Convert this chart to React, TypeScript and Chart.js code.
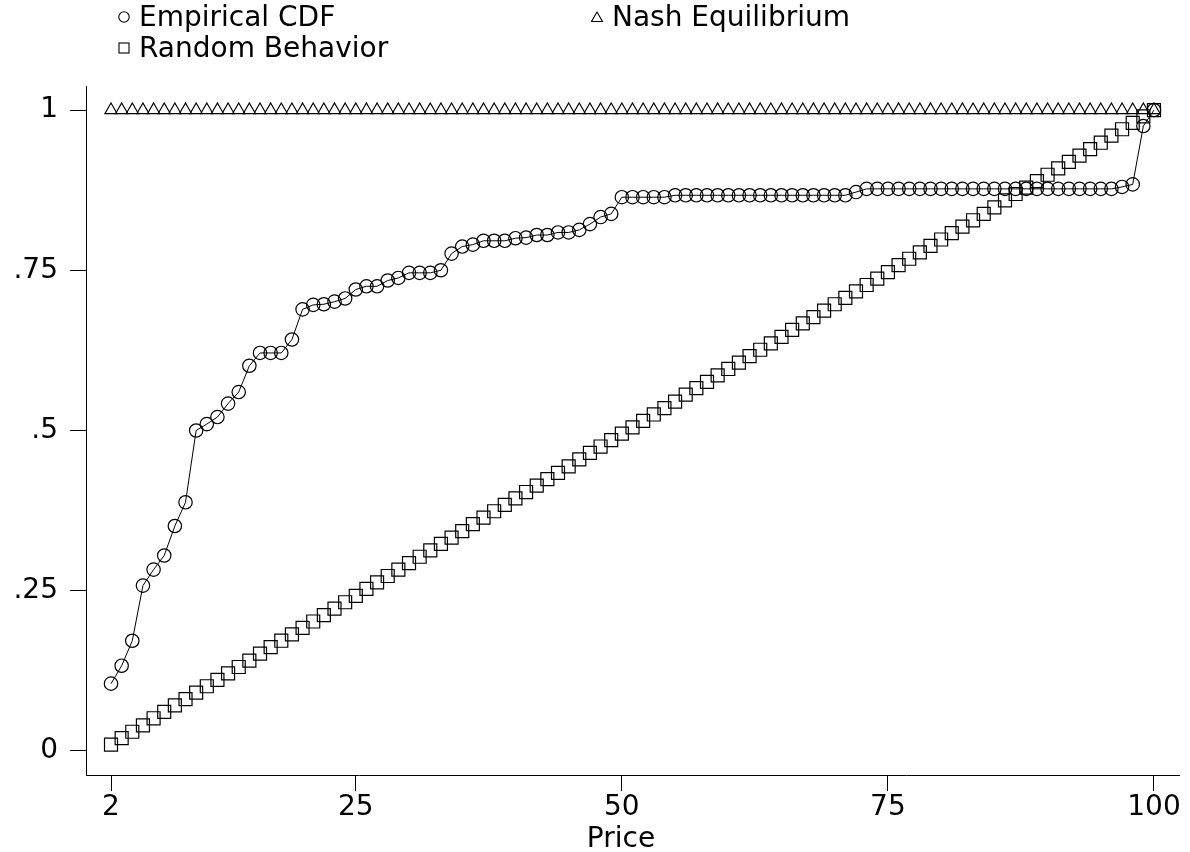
import React, { useEffect, useRef } from "react";
import { Chart, registerables } from "chart.js";

Chart.register(...registerables);

const PRICES = [
  2, 3, 4, 5, 6, 7, 8, 9, 10, 11, 12, 13, 14, 15, 16, 17, 18, 19, 20, 21,
  22, 23, 24, 25, 26, 27, 28, 29, 30, 31, 32, 33, 34, 35, 36, 37, 38, 39, 40, 41,
  42, 43, 44, 45, 46, 47, 48, 49, 50, 51, 52, 53, 54, 55, 56, 57, 58, 59, 60, 61,
  62, 63, 64, 65, 66, 67, 68, 69, 70, 71, 72, 73, 74, 75, 76, 77, 78, 79, 80, 81,
  82, 83, 84, 85, 86, 87, 88, 89, 90, 91, 92, 93, 94, 95, 96, 97, 98, 99, 100,
];

const EMPIRICAL_CDF = [
  0.105, 0.133, 0.172, 0.258, 0.283, 0.305, 0.351, 0.388, 0.5, 0.51,
  0.521, 0.542, 0.56, 0.601, 0.621, 0.621, 0.621, 0.642, 0.689, 0.696,
  0.697, 0.701, 0.706, 0.72, 0.725, 0.725, 0.734, 0.738, 0.746, 0.746,
  0.746, 0.75, 0.776, 0.787, 0.79, 0.796, 0.796, 0.796, 0.8, 0.801,
  0.805, 0.805, 0.809, 0.809, 0.813, 0.822, 0.833, 0.838, 0.864, 0.864,
  0.864, 0.864, 0.864, 0.867, 0.867, 0.867, 0.867, 0.867, 0.867, 0.867,
  0.867, 0.867, 0.867, 0.867, 0.867, 0.867, 0.867, 0.867, 0.867, 0.867,
  0.872, 0.877, 0.877, 0.877, 0.877, 0.877, 0.877, 0.877, 0.877, 0.877,
  0.877, 0.877, 0.877, 0.877, 0.877, 0.877, 0.877, 0.877, 0.877, 0.877,
  0.877, 0.877, 0.877, 0.877, 0.877, 0.88, 0.884, 0.975, 1.0,
];

const NASH_EQUILIBRIUM = [
  1, 1, 1, 1, 1, 1, 1, 1, 1, 1, 1, 1, 1, 1, 1, 1, 1, 1, 1, 1,
  1, 1, 1, 1, 1, 1, 1, 1, 1, 1, 1, 1, 1, 1, 1, 1, 1, 1, 1, 1,
  1, 1, 1, 1, 1, 1, 1, 1, 1, 1, 1, 1, 1, 1, 1, 1, 1, 1, 1, 1,
  1, 1, 1, 1, 1, 1, 1, 1, 1, 1, 1, 1, 1, 1, 1, 1, 1, 1, 1, 1,
  1, 1, 1, 1, 1, 1, 1, 1, 1, 1, 1, 1, 1, 1, 1, 1, 1, 1, 1,
];

const RANDOM_BEHAVIOR = [
  0.01, 0.02, 0.03, 0.04, 0.051, 0.061, 0.071, 0.081, 0.091, 0.101,
  0.111, 0.121, 0.131, 0.141, 0.152, 0.162, 0.172, 0.182, 0.192, 0.202,
  0.212, 0.222, 0.232, 0.242, 0.253, 0.263, 0.273, 0.283, 0.293, 0.303,
  0.313, 0.323, 0.333, 0.343, 0.354, 0.364, 0.374, 0.384, 0.394, 0.404,
  0.414, 0.424, 0.434, 0.444, 0.455, 0.465, 0.475, 0.485, 0.495, 0.505,
  0.515, 0.525, 0.535, 0.545, 0.556, 0.566, 0.576, 0.586, 0.596, 0.606,
  0.616, 0.626, 0.636, 0.646, 0.657, 0.667, 0.677, 0.687, 0.697, 0.707,
  0.717, 0.727, 0.737, 0.747, 0.758, 0.768, 0.778, 0.788, 0.798, 0.808,
  0.818, 0.828, 0.838, 0.848, 0.859, 0.869, 0.879, 0.889, 0.899, 0.909,
  0.919, 0.929, 0.939, 0.949, 0.96, 0.97, 0.98, 0.99, 1.0,
];

const X_TICKS = [2, 25, 50, 75, 100];
const Y_TICKS = [0, 0.25, 0.5, 0.75, 1];
const Y_TICK_LABELS = ["0", ".25", ".5", ".75", "1"];
const X_TITLE = "Price";
const SERIES_NAMES = ["Empirical CDF", "Nash Equilibrium", "Random Behavior"];

const FONT = '"DejaVu Sans", "Liberation Sans", Arial, sans-serif';
const INK = "#000000";

function Marker({ kind }: { kind: string }) {
  const common = { fill: "none", stroke: INK, strokeWidth: 1.1 };
  return (
    <svg width={14} height={14} style={{ display: "block" }}>
      {kind === "circle" && <circle cx={7} cy={7} r={5.2} {...common} />}
      {kind === "square" && <rect x={2} y={2} width={10} height={10} {...common} />}
      {kind === "triangle" && <polygon points="7,2 12.5,11.5 1.5,11.5" {...common} />}
    </svg>
  );
}

function LegendItem({ left, top, kind, text }: { left: number; top: number; kind: string; text: string }) {
  return (
    <div style={{ position: "absolute", left, top, display: "flex", alignItems: "center", whiteSpace: "nowrap" }}>
      <Marker kind={kind} />
      <span style={{ marginLeft: 8, fontFamily: FONT, fontSize: 28, lineHeight: "28px", color: INK }}>{text}</span>
    </div>
  );
}

export default function App() {
  const ref = useRef<HTMLCanvasElement>(null);

  useEffect(() => {
    const toPoints = (ys: number[]) => PRICES.map((x, i) => ({ x, y: ys[i] }));
    const tickFont = { family: FONT, size: 28 };
    const chart = new Chart(ref.current as HTMLCanvasElement, {
      type: "line",
      data: {
        datasets: [
          {
            label: SERIES_NAMES[0],
            data: toPoints(EMPIRICAL_CDF),
            showLine: true,
            borderColor: INK,
            borderWidth: 1,
            tension: 0,
            pointStyle: "circle",
            pointRadius: 6.7,
            pointBorderWidth: 1.2,
            pointBorderColor: INK,
            pointBackgroundColor: "rgba(0,0,0,0)",
          },
          {
            label: SERIES_NAMES[1],
            data: toPoints(NASH_EQUILIBRIUM),
            showLine: false,
            borderColor: INK,
            pointStyle: "triangle",
            pointRadius: 7,
            pointBorderWidth: 1.2,
            pointBorderColor: INK,
            pointBackgroundColor: "rgba(0,0,0,0)",
          },
          {
            label: SERIES_NAMES[2],
            data: toPoints(RANDOM_BEHAVIOR),
            showLine: false,
            borderColor: INK,
            pointStyle: "rect",
            pointRadius: 9.2,
            pointBorderWidth: 1.2,
            pointBorderColor: INK,
            pointBackgroundColor: "rgba(0,0,0,0)",
          },
        ],
      },
      options: {
        responsive: false,
        animation: false,
        devicePixelRatio: 1,
        clip: false as any,
        layout: { padding: { top: 86, right: 11, left: 0, bottom: 0 } },
        plugins: { legend: { display: false }, tooltip: { enabled: false } },
        scales: {
          x: {
            type: "linear",
            min: -0.35,
            max: 102.35,
            afterBuildTicks: (s: any) => {
              s.ticks = X_TICKS.map((v) => ({ value: v }));
            },
            afterFit: (s: any) => {
              s.height = 77;
            },
            ticks: {
              autoSkip: false,
              maxRotation: 0,
              minRotation: 0,
              padding: 0,
              color: INK,
              font: tickFont,
              callback: (v: any) => String(v),
            },
            grid: { drawOnChartArea: false, drawTicks: true, tickLength: 16, color: INK, lineWidth: 1 },
            border: { display: true, color: INK, width: 1 },
          },
          y: {
            type: "linear",
            min: -0.0375,
            max: 1.0375,
            afterBuildTicks: (s: any) => {
              s.ticks = Y_TICKS.map((v) => ({ value: v }));
            },
            afterFit: (s: any) => {
              s.width = 86;
            },
            ticks: {
              autoSkip: false,
              padding: 12,
              color: INK,
              font: tickFont,
              callback: (v: any) => {
                const i = Y_TICKS.indexOf(Number(v));
                return i >= 0 ? Y_TICK_LABELS[i] : "";
              },
            },
            grid: { drawOnChartArea: false, drawTicks: true, tickLength: 16, color: INK, lineWidth: 1 },
            border: { display: true, color: INK, width: 1 },
          },
        },
      },
    });
    return () => chart.destroy();
  }, []);

  return (
    <div style={{ position: "absolute", left: 0, top: 0, width: 1190, height: 852, background: "#fff", overflow: "hidden" }}>
      <canvas ref={ref} width={1190} height={852} style={{ position: "absolute", left: 0, top: 0 }} />
      <LegendItem left={117} top={3} kind="circle" text={SERIES_NAMES[0]} />
      <LegendItem left={590} top={3} kind="triangle" text={SERIES_NAMES[1]} />
      <LegendItem left={117} top={34} kind="square" text={SERIES_NAMES[2]} />
      <div
        style={{
          position: "absolute",
          left: 521,
          top: 824,
          width: 200,
          textAlign: "center",
          fontFamily: FONT,
          fontSize: 28,
          lineHeight: "28px",
          color: INK,
          whiteSpace: "nowrap",
        }}
      >
        {X_TITLE}
      </div>
    </div>
  );
}
